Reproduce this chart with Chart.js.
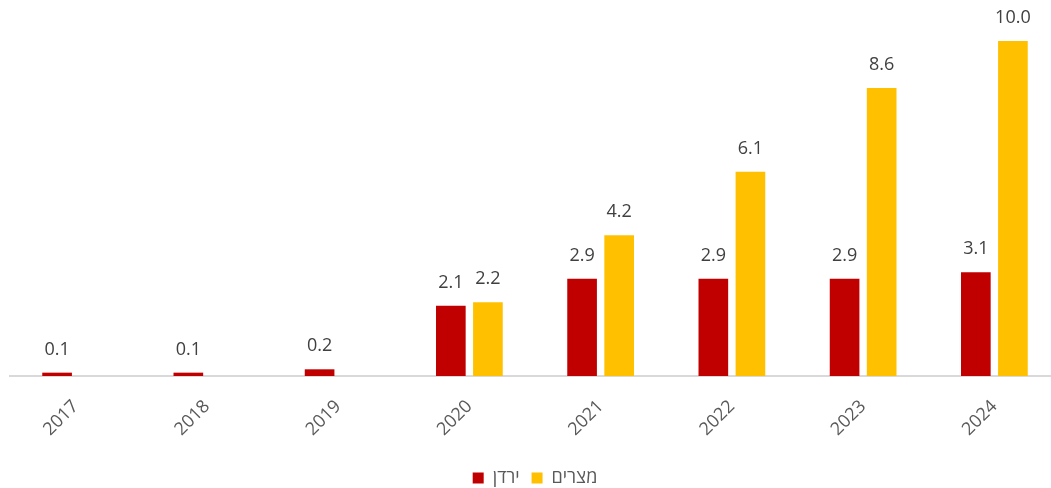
<!DOCTYPE html>
<html><head><meta charset="utf-8">
<script src="https://cdn.jsdelivr.net/npm/chart.js@4.4.1/dist/chart.umd.min.js"></script>
<style>html,body{margin:0;padding:0;background:#fff;overflow:hidden}#wrap{width:1060px;height:497px}</style>
</head><body><div id="wrap"><canvas id="c"></canvas></div>
<script>
const years = ['2017','2018','2019','2020','2021','2022','2023','2024'];
const jordan = [0.1, 0.1, 0.2, 2.1, 2.9, 2.9, 2.9, 3.1];
const egypt = [null, null, null, 2.2, 4.2, 6.1, 8.6, 10.0];
const seriesNames = ['ירדן', 'מצרים'];
const FONT = "'Open Sans', 'Noto Sans', sans-serif";

const labelPlugin = {
  id: 'valLabels',
  afterDatasetsDraw(chart) {
    const ctx = chart.ctx;
    ctx.save();
    ctx.font = '18px ' + FONT;
    ctx.fillStyle = '#404040';
    ctx.textAlign = 'center';
    ctx.textBaseline = 'bottom';
    chart.data.datasets.forEach((ds, i) => {
      const meta = chart.getDatasetMeta(i);
      meta.data.forEach((el, j) => {
        const v = ds.data[j];
        if (v === null || v === undefined) return;
        ctx.fillText(v.toFixed(1), el.x, el.y - 14);
      });
    });
    ctx.restore();
  }
};

new Chart(document.getElementById('c'), {
  type: 'bar',
  data: {
    labels: years,
    datasets: [
      { label: seriesNames[0], data: jordan, backgroundColor: '#C00000', categoryPercentage: 0.565, barPercentage: 0.8 },
      { label: seriesNames[1], data: egypt, backgroundColor: '#FFC000', categoryPercentage: 0.565, barPercentage: 0.8 }
    ]
  },
  options: {
    responsive: true,
    maintainAspectRatio: false,
    animation: false,
    layout: { padding: { top: 41, left: 10, right: 0, bottom: 0 } },
    plugins: {
      legend: {
        position: 'bottom',
        labels: { boxWidth: 11, boxHeight: 11, color: '#595959', font: { family: FONT, size: 18 }, padding: 12 }
      },
      tooltip: { enabled: false }
    },
    scales: {
      x: {
        grid: { display: false },
        border: { display: true, color: '#d9d9d9', width: 2 },
        ticks: { color: '#595959', font: { family: FONT, size: 18 }, minRotation: 45, maxRotation: 45, padding: 12 },
        afterFit(scale) { scale.height = 81; }
      },
      y: { display: false, min: 0, max: 10 }
    }
  },
  plugins: [labelPlugin]
});
</script></body></html>
